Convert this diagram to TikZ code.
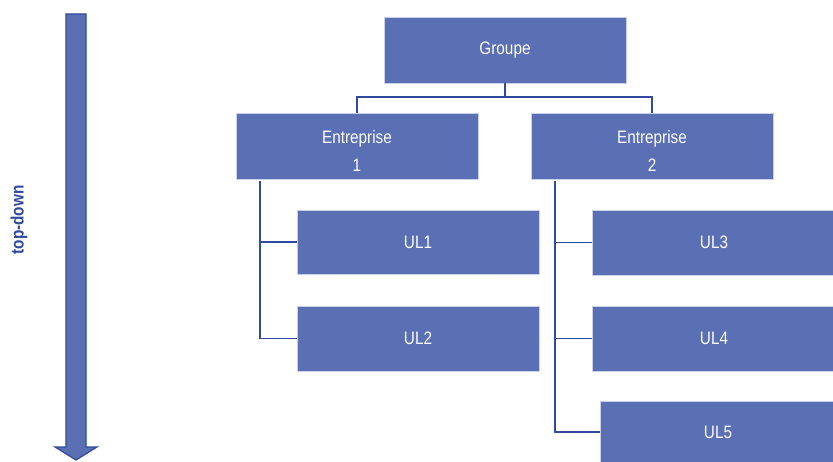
\documentclass[tikz,border=0pt]{standalone}
\usepackage{fontspec}
\setmainfont{Liberation Sans}[FakeStretch=0.85]
\definecolor{boxfill}{HTML}{5B6FB4}
\definecolor{boxedge}{HTML}{C9D0EA}
\definecolor{linkblue}{HTML}{2F4A9F}
\tikzset{
  unit/.style={draw=boxedge, line width=0.8pt, fill=boxfill, text=white,
    font=\fontsize{18}{28}\selectfont, align=center, inner sep=0pt},
  link/.style={draw=linkblue, line width=1.5pt}
}
\begin{document}
\begin{tikzpicture}[x=1pt,y=-1pt]
  \useasboundingbox (0,0) rectangle (833,462);
  % top-down arrow
  \draw[linkblue, line width=1.2pt, fill=boxfill, line join=miter]
    (66,14) -- (86,14) -- (86,447) -- (97,447) -- (76,460) -- (55,447) -- (66,447) -- cycle;
  \node[rotate=90, text=linkblue, font=\fontsize{18}{20}\selectfont\bfseries] (lbl) at (19,220) {top-down};

  % boxes
  \node[unit, minimum width=242pt, minimum height=66pt] (grp) at (505,50) {Groupe};
  \node[unit, minimum width=242pt, minimum height=66pt] (e1) at (357,146) {\rule{0pt}{24pt}Entreprise\\1};
  \node[unit, minimum width=242pt, minimum height=66pt] (e2) at (652,146) {\rule{0pt}{24pt}Entreprise\\2};
  \node[unit, minimum width=242pt, minimum height=64pt] (u1) at (418,242) {UL1};
  \node[unit, minimum width=242pt, minimum height=65pt] (u2) at (418,338.5) {UL2};
  \node[unit, minimum width=244pt, minimum height=65pt] (u3) at (714,242.5) {UL3};
  \node[unit, minimum width=244pt, minimum height=65pt] (u4) at (714,338.5) {UL4};
  \node[unit, minimum width=236pt, minimum height=62pt] (u5) at (718,432) {UL5};

  % tree connectors
  \coordinate (bar) at (0,97);
  \draw[link] (grp.south) -- (grp.south |- bar);
  \draw[link] (e1.north) -- (e1.north |- bar) -- (e2.north |- bar) -- (e2.north);
  \coordinate (s1) at (260,181);
  \coordinate (s2) at (555,181);
  \draw[link] (s1) |- (u2.west);
  \draw[link] (s1 |- u1.west) -- (u1.west);
  \draw[link] (s2) |- (u5.west);
  \draw[link] (s2 |- u3.west) -- (u3.west);
  \draw[link] (s2 |- u4.west) -- (u4.west);
\end{tikzpicture}
\end{document}
